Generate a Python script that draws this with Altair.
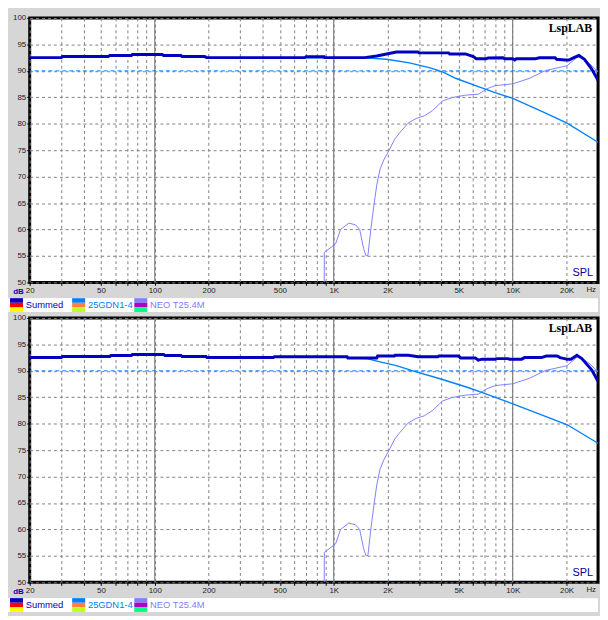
import altair as alt
import pandas as pd

# ---------------- data ----------------
SUM_TOP_F = [20, 30, 30.5, 55, 56, 74, 75, 110, 112, 140, 142, 190, 195, 690, 700, 885, 890,
             1490, 1740, 1945, 2240, 2950, 3000, 4390, 4450, 5450, 6030, 6260, 7110, 7300,
             8830, 9000, 10020, 10280, 10500, 13400, 14100, 17280, 17600, 19640, 20650,
             21980, 23440, 25200, 27600, 30000]
SUM_TOP_DB = [92.5, 92.5, 92.7, 92.7, 92.9, 92.9, 93.1, 93.1, 92.9, 92.9, 92.7, 92.7, 92.5, 92.5, 92.65, 92.65, 92.5,
              92.5, 92.8, 93.15, 93.55, 93.55, 93.4, 93.4, 93.2, 93.2, 92.7, 92.3, 92.3, 92.45,
              92.47, 92.3, 92.3, 92.06, 92.3, 92.3, 92.47, 92.47, 92.2, 92.06, 92.06,
              92.5, 92.9, 92.18, 90.4, 88.2]

WOOF_TOP_F = [20, 30, 30.5, 55, 56, 74, 75, 110, 112, 140, 142, 190, 195, 1490, 1975, 2650, 3420,
              4060, 4800, 6320, 7970, 10020, 14660, 20130, 30000]
WOOF_TOP_DB = [92.45, 92.45, 92.65, 92.65, 92.85, 92.85, 93.05, 93.05, 92.85, 92.85, 92.65, 92.65, 92.45, 92.45,
               92.2, 91.5, 90.6, 89.8, 88.6, 87.1, 85.9, 84.8, 82.3, 80.1, 76.5]

SUM_BOT_F = [20, 30, 30.5, 56, 57, 74, 75, 112, 114, 140, 142, 193, 196, 460, 466, 1188, 1200,
             1740, 1760, 2186, 2200, 2610, 2964, 3820, 3868, 4984, 5112, 6186, 6426, 6760,
             7974, 8200, 9400, 9600, 11230, 11660, 14470, 15420, 17730, 18410, 19500,
             20130, 21180, 22850, 24350, 27640, 30000]
SUM_BOT_DB = [92.5, 92.5, 92.7, 92.7, 92.9, 92.9, 93.1, 93.1, 92.9, 92.9, 92.7, 92.7, 92.5, 92.5, 92.67, 92.67, 92.44,
              92.44, 92.8, 92.8, 92.93, 92.93, 92.67, 92.67, 92.8, 92.8, 92.44, 92.44, 92.0, 92.2,
              92.2, 92.3, 92.3, 92.2, 92.2, 92.5, 92.5, 92.8, 92.8, 92.5, 92.3,
              92.2, 92.2, 92.93, 92.3, 90.2, 88.0]

WOOF_BOT_F = [20, 30, 30.5, 56, 57, 74, 75, 112, 114, 140, 142, 193, 196, 460, 466, 1188, 1200,
              1532, 1815, 2242, 2772, 4056, 5680, 7020, 9450, 14140, 20200, 30000]
WOOF_BOT_DB = [92.45, 92.45, 92.65, 92.65, 92.85, 92.85, 93.05, 93.05, 92.85, 92.85, 92.65, 92.65, 92.45, 92.45,
               92.62, 92.62, 92.4, 92.3, 91.7, 90.97, 90.0, 88.35, 86.8, 85.7, 84.07, 81.8, 79.8, 76.3]

TWEET_F = [885, 886, 1025, 1092, 1215, 1321, 1397, 1469, 1513, 1552, 1612, 1681, 1740, 1815,
           1908, 2018, 2194, 2338, 2600, 2890, 3210, 3572, 4056, 4602, 5448, 6448, 7174,
           7974, 10018, 12382, 15282, 20130, 23340, 27040, 30000]
TWEET_DB = [50, 55.65, 57.3, 60.0, 61.2, 60.9, 60.0, 56.4, 55.05, 55.05, 60.0, 64.8, 68.4, 71.4,
            73.2, 74.7, 77.1, 78.3, 80.1, 81.0, 81.5, 82.5, 84.3, 84.96, 85.4, 85.6, 86.6,
            87.2, 87.55, 88.57, 90.07, 90.97, 92.8, 91.3, 89.8]

SERIES = ["Summed", "25GDN1-4", "NEO T25.4M"]
SERIES_COLORS = ["#0000c0", "#0080ff", "#8080ff"]
STRIPE_COLORS = [["#0000c0", "#ff0000", "#ffff00"],
                 ["#0080ff", "#ff8040", "#c0ff20"],
                 ["#8080ff", "#b000c0", "#00ff80"]]

GRID_F = [20, 30, 40, 50, 60, 70, 80, 90, 100, 200, 300, 400, 500, 600, 700, 800, 900,
          1000, 2000, 3000, 4000, 5000, 6000, 7000, 8000, 9000, 10000, 20000]
LABEL_F = [20, 50, 100, 200, 500, 1000, 2000, 5000, 10000, 20000]
DECADES = [100, 1000, 10000]
Y_TICKS = [50, 55, 60, 65, 70, 75, 80, 85, 90, 95, 100]
TARGET_DB = 90

GRAY = "#d6d6d6"
FONT = "Liberation Sans"
PANEL_W = 576
PANEL_H = 268

label_expr = ("indexof([" + ",".join(str(v) for v in LABEL_F) + "], datum.value) >= 0 ? "
              "(datum.value >= 1000 ? (datum.value / 1000) + 'K' : '' + datum.value) : ''")

x_scale = alt.Scale(type="log", domain=[20, 30000], nice=False)
y_scale = alt.Scale(domain=[50, 100], nice=False, zero=False)

x_axis = alt.Axis(values=GRID_F, labelExpr=label_expr, grid=True, gridDash=[3, 3],
                  gridColor="#808080", gridWidth=1, domain=False, ticks=True, tickSize=3,
                  tickColor="#000000", title=None, labelFont=FONT, labelFontSize=8,
                  labelColor="#222222", labelPadding=1, labelOverlap=False, labelFlush=False)
y_axis = alt.Axis(values=Y_TICKS, grid=True, gridDash=[3, 3], gridColor="#808080",
                  gridWidth=1, domain=False, ticks=True, tickSize=3, tickColor="#000000",
                  title=None, labelFont=FONT, labelFontSize=8, labelColor="#222222",
                  labelPadding=1, labelOverlap=False, labelFlush=False)


def X(v=None):
    if v is None:
        return alt.X("freq:Q", scale=x_scale, axis=x_axis)
    return alt.X(datum=v, type="quantitative", scale=x_scale, axis=x_axis)


def Y(v=None):
    if v is None:
        return alt.Y("db:Q", scale=y_scale, axis=y_axis)
    return alt.Y(datum=v, type="quantitative", scale=y_scale, axis=y_axis)


def make_panel(sum_f, sum_db, woof_f, woof_db):
    df = pd.concat([
        pd.DataFrame({"series": SERIES[0], "freq": sum_f, "db": sum_db}),
        pd.DataFrame({"series": SERIES[1], "freq": woof_f, "db": woof_db}),
        pd.DataFrame({"series": SERIES[2], "freq": TWEET_F, "db": TWEET_DB}),
    ], ignore_index=True)
    base = alt.Chart(df)

    decades = alt.Chart(pd.DataFrame({"freq": DECADES})).mark_rule(
        color="#808080", strokeWidth=1.2).encode(x=X())
    target = alt.Chart(pd.DataFrame({"db": [TARGET_DB]})).mark_rule(
        color="#0080ff", strokeDash=[4, 3], strokeWidth=1).encode(y=Y())

    tweet = base.transform_filter(alt.datum.series == SERIES[2]).mark_line(
        color=SERIES_COLORS[2], strokeWidth=1, clip=True).encode(x=X(), y=Y())
    woof = base.transform_filter(alt.datum.series == SERIES[1]).mark_line(
        color=SERIES_COLORS[1], strokeWidth=1.4, clip=True).encode(x=X(), y=Y())
    summ = base.transform_filter(alt.datum.series == SERIES[0]).mark_line(
        color=SERIES_COLORS[0], strokeWidth=3, clip=True).encode(x=X(), y=Y())

    logo = alt.Chart().mark_text(
        text="LspLAB", font="Liberation Serif", fontWeight="bold", fontSize=12,
        color="#000000", align="right", baseline="top", dx=-6, dy=5).encode(
        x=X(30000), y=Y(100))
    spl = alt.Chart().mark_text(
        text="SPL", font=FONT, fontSize=11, color="#0000a0", align="right",
        baseline="bottom", dx=-5, dy=-4).encode(x=X(30000), y=Y(50))
    db_lbl = alt.Chart().mark_text(
        text="dB", font=FONT, fontSize=8, fontWeight="bold", color="#0000c0",
        align="right", baseline="top", dx=-6, dy=6).encode(x=X(20), y=Y(50))
    hz_lbl = alt.Chart().mark_text(
        text="Hz", font=FONT, fontSize=8, color="#222222",
        align="right", baseline="top", dx=-2, dy=4).encode(x=X(30000), y=Y(50))

    return alt.layer(decades, target, tweet, woof, summ, logo, spl,
                     db_lbl, hz_lbl).properties(width=PANEL_W, height=PANEL_H)


LEG_X = alt.Scale(domain=[0, 9], range=[-20, 547], nice=False, zero=False)


def make_legend():
    rows = []
    for slot, (name, tcol, stripes) in enumerate(zip(SERIES, SERIES_COLORS, STRIPE_COLORS)):
        for k, c in enumerate(stripes):
            rows.append({"name": name, "slot": slot, "stripe": k, "color": c, "tcolor": tcol})
    ldf = pd.DataFrame(rows)
    band = alt.Chart().mark_rect(color="white").encode(
        x=alt.X(datum=-0.03, type="quantitative", scale=LEG_X, axis=None),
        x2=alt.X2(datum=9.17))
    sw = alt.Chart(ldf).transform_calculate(slot2="datum.slot + 0.21").mark_rect().encode(
        x=alt.X("slot:Q", scale=LEG_X, axis=None), x2="slot2:Q",
        y=alt.Y("stripe:O", axis=None, scale=alt.Scale(paddingInner=0, paddingOuter=0)),
        color=alt.Color("color:N", scale=None))
    tx = alt.Chart(ldf).transform_filter(alt.datum.stripe == 0).mark_text(
        align="left", baseline="middle", dx=16, font=FONT, fontSize=9.5).encode(
        x=alt.X("slot:Q", scale=LEG_X, axis=None), text="name:N",
        color=alt.Color("tcolor:N", scale=None))
    return alt.layer(band, sw, tx).properties(
        width=PANEL_W, height=14, view=alt.ViewBackground(fill="white", strokeWidth=0))


top = make_panel(SUM_TOP_F, SUM_TOP_DB, WOOF_TOP_F, WOOF_TOP_DB)
bot = make_panel(SUM_BOT_F, SUM_BOT_DB, WOOF_BOT_F, WOOF_BOT_DB)

chart = alt.vconcat(top, make_legend(), bot, make_legend(), spacing=0).resolve_scale(
    x="independent", y="independent", color="independent"
).configure(background=GRAY, padding=0).configure_view(
    stroke="#000000", strokeWidth=3, fill="white")

chart.save("out.html", embed_options={"renderer": "svg", "actions": False})
